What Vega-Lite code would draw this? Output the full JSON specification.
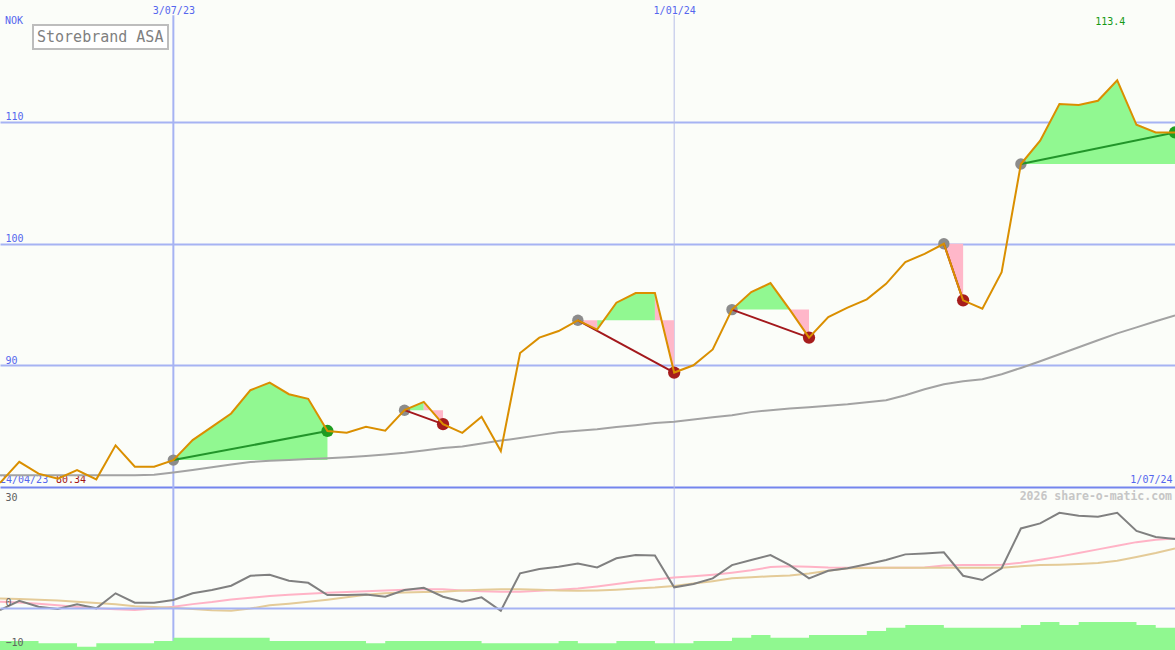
{
  "$schema": "https://vega.github.io/schema/vega-lite/v6.json",
  "width": 1175,
  "height": 650,
  "autosize": {"type": "none"},
  "padding": 0,
  "background": "#fbfdf9",
  "config": {"view": {"stroke": null}, "font": "DejaVu Sans Mono"},
  "datasets": {
    "weekly": [
      {"d": "2023-05-01", "close": 80.34, "avg": 80.96, "osc": -0.57, "osc_fast": 1.5, "osc_slow": 2.3, "vol": 5.5},
      {"d": "2023-05-08", "close": 82.07, "avg": 80.96, "osc": 1.74, "osc_fast": 1.3, "osc_slow": 2.2, "vol": 5.5},
      {"d": "2023-05-15", "close": 81.1, "avg": 80.96, "osc": 0.25, "osc_fast": 1.0, "osc_slow": 2.0, "vol": 4.1},
      {"d": "2023-05-22", "close": 80.68, "avg": 80.96, "osc": -0.32, "osc_fast": 0.6, "osc_slow": 1.8, "vol": 4.1},
      {"d": "2023-05-29", "close": 81.39, "avg": 80.96, "osc": 0.84, "osc_fast": 0.2, "osc_slow": 1.5, "vol": 2.0},
      {"d": "2023-06-05", "close": 80.63, "avg": 80.96, "osc": -0.15, "osc_fast": -0.1, "osc_slow": 1.15, "vol": 4.1},
      {"d": "2023-06-12", "close": 83.42, "avg": 80.96, "osc": 3.58, "osc_fast": -0.35, "osc_slow": 0.85, "vol": 4.1},
      {"d": "2023-06-19", "close": 81.67, "avg": 80.96, "osc": 1.24, "osc_fast": -0.55, "osc_slow": 0.4, "vol": 4.1},
      {"d": "2023-06-26", "close": 81.67, "avg": 81.0, "osc": 1.24, "osc_fast": -0.2, "osc_slow": 0.2, "vol": 5.5},
      {"d": "2023-07-03", "close": 82.21, "avg": 81.2, "osc": 1.91, "osc_fast": 0.25, "osc_slow": 0.0, "vol": 7.5},
      {"d": "2023-07-10", "close": 83.85, "avg": 81.4, "osc": 3.58, "osc_fast": 0.9, "osc_slow": -0.3, "vol": 7.5},
      {"d": "2023-07-17", "close": 84.94, "avg": 81.62, "osc": 4.4, "osc_fast": 1.4, "osc_slow": -0.6, "vol": 7.5},
      {"d": "2023-07-24", "close": 86.04, "avg": 81.85, "osc": 5.47, "osc_fast": 2.05, "osc_slow": -0.75, "vol": 7.5},
      {"d": "2023-07-31", "close": 87.95, "avg": 82.05, "osc": 7.95, "osc_fast": 2.5, "osc_slow": -0.2, "vol": 7.5},
      {"d": "2023-08-07", "close": 88.58, "avg": 82.15, "osc": 8.2, "osc_fast": 2.9, "osc_slow": 0.6, "vol": 5.5},
      {"d": "2023-08-14", "close": 87.62, "avg": 82.22, "osc": 6.7, "osc_fast": 3.2, "osc_slow": 1.0, "vol": 5.5},
      {"d": "2023-08-21", "close": 87.24, "avg": 82.3, "osc": 6.2, "osc_fast": 3.5, "osc_slow": 1.5, "vol": 5.5},
      {"d": "2023-08-28", "close": 84.6, "avg": 82.36, "osc": 3.16, "osc_fast": 3.7, "osc_slow": 2.0, "vol": 5.5},
      {"d": "2023-09-04", "close": 84.45, "avg": 82.44, "osc": 3.16, "osc_fast": 3.9, "osc_slow": 2.6, "vol": 5.5},
      {"d": "2023-09-11", "close": 84.94, "avg": 82.55, "osc": 3.3, "osc_fast": 4.1, "osc_slow": 3.2, "vol": 4.1},
      {"d": "2023-09-18", "close": 84.62, "avg": 82.67, "osc": 2.73, "osc_fast": 4.3, "osc_slow": 3.6, "vol": 5.5},
      {"d": "2023-09-25", "close": 86.31, "avg": 82.81, "osc": 4.4, "osc_fast": 4.5, "osc_slow": 3.8, "vol": 5.5},
      {"d": "2023-10-02", "close": 86.99, "avg": 82.99, "osc": 4.97, "osc_fast": 4.6, "osc_slow": 3.9, "vol": 5.5},
      {"d": "2023-10-09", "close": 85.16, "avg": 83.2, "osc": 2.73, "osc_fast": 4.6, "osc_slow": 4.0, "vol": 5.5},
      {"d": "2023-10-16", "close": 84.45, "avg": 83.33, "osc": 1.49, "osc_fast": 4.3, "osc_slow": 4.3, "vol": 5.5},
      {"d": "2023-10-23", "close": 85.77, "avg": 83.57, "osc": 2.58, "osc_fast": 4.1, "osc_slow": 4.5, "vol": 4.1},
      {"d": "2023-10-30", "close": 82.95, "avg": 83.81, "osc": -0.75, "osc_fast": 4.0, "osc_slow": 4.6, "vol": 4.1},
      {"d": "2023-11-06", "close": 91.01, "avg": 84.02, "osc": 8.55, "osc_fast": 4.0, "osc_slow": 4.6, "vol": 4.1},
      {"d": "2023-11-13", "close": 92.27, "avg": 84.26, "osc": 9.6, "osc_fast": 4.2, "osc_slow": 4.5, "vol": 4.1},
      {"d": "2023-11-20", "close": 92.81, "avg": 84.5, "osc": 10.2, "osc_fast": 4.5, "osc_slow": 4.3, "vol": 5.5},
      {"d": "2023-11-27", "close": 93.69, "avg": 84.63, "osc": 11.0, "osc_fast": 4.8, "osc_slow": 4.2, "vol": 4.1},
      {"d": "2023-12-04", "close": 92.93, "avg": 84.75, "osc": 10.0, "osc_fast": 5.3, "osc_slow": 4.3, "vol": 4.1},
      {"d": "2023-12-11", "close": 95.14, "avg": 84.92, "osc": 12.3, "osc_fast": 5.9, "osc_slow": 4.5, "vol": 5.5},
      {"d": "2023-12-18", "close": 95.93, "avg": 85.08, "osc": 13.1, "osc_fast": 6.5, "osc_slow": 4.8, "vol": 5.5},
      {"d": "2023-12-25", "close": 95.93, "avg": 85.25, "osc": 13.0, "osc_fast": 7.0, "osc_slow": 5.0, "vol": 4.1},
      {"d": "2024-01-01", "close": 89.4, "avg": 85.35, "osc": 5.07, "osc_fast": 7.5, "osc_slow": 5.4, "vol": 4.1},
      {"d": "2024-01-08", "close": 90.0, "avg": 85.55, "osc": 5.9, "osc_fast": 7.8, "osc_slow": 6.0, "vol": 5.5},
      {"d": "2024-01-15", "close": 91.3, "avg": 85.72, "osc": 7.3, "osc_fast": 8.2, "osc_slow": 6.6, "vol": 5.5},
      {"d": "2024-01-22", "close": 94.57, "avg": 85.9, "osc": 10.6, "osc_fast": 8.7, "osc_slow": 7.3, "vol": 7.5},
      {"d": "2024-01-29", "close": 96.01, "avg": 86.15, "osc": 11.85, "osc_fast": 9.3, "osc_slow": 7.6, "vol": 9.2},
      {"d": "2024-02-05", "close": 96.75, "avg": 86.31, "osc": 13.1, "osc_fast": 10.1, "osc_slow": 7.8, "vol": 7.5},
      {"d": "2024-02-12", "close": 94.57, "avg": 86.45, "osc": 10.6, "osc_fast": 10.3, "osc_slow": 8.0, "vol": 7.5},
      {"d": "2024-02-19", "close": 92.27, "avg": 86.56, "osc": 7.3, "osc_fast": 10.2, "osc_slow": 8.5, "vol": 9.2},
      {"d": "2024-02-26", "close": 93.96, "avg": 86.68, "osc": 9.2, "osc_fast": 10.0, "osc_slow": 9.2, "vol": 9.2},
      {"d": "2024-03-04", "close": 94.73, "avg": 86.8, "osc": 9.8, "osc_fast": 9.95, "osc_slow": 9.8, "vol": 9.2},
      {"d": "2024-03-11", "close": 95.41, "avg": 86.97, "osc": 10.8, "osc_fast": 9.95, "osc_slow": 9.9, "vol": 11.7},
      {"d": "2024-03-18", "close": 96.69, "avg": 87.13, "osc": 11.85, "osc_fast": 9.95, "osc_slow": 9.95, "vol": 13.7},
      {"d": "2024-03-25", "close": 98.47, "avg": 87.54, "osc": 13.26, "osc_fast": 9.95, "osc_slow": 9.95, "vol": 15.3},
      {"d": "2024-04-01", "close": 99.15, "avg": 88.03, "osc": 13.5, "osc_fast": 10.0, "osc_slow": 9.95, "vol": 15.3},
      {"d": "2024-04-08", "close": 99.98, "avg": 88.44, "osc": 13.76, "osc_fast": 10.5, "osc_slow": 9.95, "vol": 13.7},
      {"d": "2024-04-15", "close": 95.33, "avg": 88.69, "osc": 7.95, "osc_fast": 10.6, "osc_slow": 9.95, "vol": 13.7},
      {"d": "2024-04-22", "close": 94.65, "avg": 88.85, "osc": 6.88, "osc_fast": 10.6, "osc_slow": 9.95, "vol": 13.7},
      {"d": "2024-04-29", "close": 97.65, "avg": 89.26, "osc": 9.8, "osc_fast": 10.7, "osc_slow": 9.95, "vol": 13.7},
      {"d": "2024-05-06", "close": 106.53, "avg": 89.78, "osc": 19.7, "osc_fast": 11.2, "osc_slow": 10.3, "vol": 15.3},
      {"d": "2024-05-13", "close": 108.44, "avg": 90.33, "osc": 20.97, "osc_fast": 11.9, "osc_slow": 10.6, "vol": 17.2},
      {"d": "2024-05-20", "close": 111.45, "avg": 90.9, "osc": 23.6, "osc_fast": 12.7, "osc_slow": 10.7, "vol": 15.3},
      {"d": "2024-05-27", "close": 111.37, "avg": 91.48, "osc": 22.86, "osc_fast": 13.6, "osc_slow": 10.85, "vol": 17.2},
      {"d": "2024-06-03", "close": 111.72, "avg": 92.05, "osc": 22.6, "osc_fast": 14.5, "osc_slow": 11.1, "vol": 17.2},
      {"d": "2024-06-10", "close": 113.4, "avg": 92.62, "osc": 23.6, "osc_fast": 15.4, "osc_slow": 11.7, "vol": 17.2},
      {"d": "2024-06-17", "close": 109.75, "avg": 93.11, "osc": 19.1, "osc_fast": 16.3, "osc_slow": 12.6, "vol": 15.3},
      {"d": "2024-06-24", "close": 109.12, "avg": 93.61, "osc": 17.6, "osc_fast": 16.9, "osc_slow": 13.6, "vol": 13.7},
      {"d": "2024-07-01", "close": 109.12, "avg": 94.1, "osc": 17.07, "osc_fast": 17.2, "osc_slow": 14.75, "vol": 13.7}
    ],
    "trades": [
      {"t": 1, "d0": "2023-07-03", "d1": "2023-08-28", "p0": 82.21, "p1": 84.6, "up": true},
      {"t": 2, "d0": "2023-09-25", "d1": "2023-10-09", "p0": 86.31, "p1": 85.16, "up": false},
      {"t": 3, "d0": "2023-11-27", "d1": "2024-01-01", "p0": 93.69, "p1": 89.4, "up": false},
      {"t": 4, "d0": "2024-01-22", "d1": "2024-02-19", "p0": 94.57, "p1": 92.27, "up": false},
      {"t": 5, "d0": "2024-04-08", "d1": "2024-04-15", "p0": 99.98, "p1": 95.33, "up": false},
      {"t": 6, "d0": "2024-05-06", "d1": "2024-07-01", "p0": 106.53, "p1": 109.12, "up": true}
    ],
    "fills": [
      {"s": "1", "d": "2023-07-03", "close": 82.21, "base": 82.21, "up": true},
      {"s": "1", "d": "2023-07-10", "close": 83.85, "base": 82.21, "up": true},
      {"s": "1", "d": "2023-07-17", "close": 84.94, "base": 82.21, "up": true},
      {"s": "1", "d": "2023-07-24", "close": 86.04, "base": 82.21, "up": true},
      {"s": "1", "d": "2023-07-31", "close": 87.95, "base": 82.21, "up": true},
      {"s": "1", "d": "2023-08-07", "close": 88.58, "base": 82.21, "up": true},
      {"s": "1", "d": "2023-08-14", "close": 87.62, "base": 82.21, "up": true},
      {"s": "1", "d": "2023-08-21", "close": 87.24, "base": 82.21, "up": true},
      {"s": "1", "d": "2023-08-28", "close": 84.6, "base": 82.21, "up": true},
      {"s": "2a", "d": "2023-09-25", "close": 86.31, "base": 86.31, "up": true},
      {"s": "2a", "d": "2023-10-02", "close": 86.99, "base": 86.31, "up": true},
      {"s": "2b", "d": "2023-10-02", "close": 86.99, "base": 86.31, "up": false},
      {"s": "2b", "d": "2023-10-09", "close": 85.16, "base": 86.31, "up": false},
      {"s": "3a", "d": "2023-11-27", "close": 93.69, "base": 93.69, "up": false},
      {"s": "3a", "d": "2023-12-04", "close": 92.93, "base": 93.69, "up": false},
      {"s": "3b", "d": "2023-12-04", "close": 92.93, "base": 93.69, "up": true},
      {"s": "3b", "d": "2023-12-11", "close": 95.14, "base": 93.69, "up": true},
      {"s": "3b", "d": "2023-12-18", "close": 95.93, "base": 93.69, "up": true},
      {"s": "3b", "d": "2023-12-25", "close": 95.93, "base": 93.69, "up": true},
      {"s": "3c", "d": "2023-12-25", "close": 95.93, "base": 93.69, "up": false},
      {"s": "3c", "d": "2024-01-01", "close": 89.4, "base": 93.69, "up": false},
      {"s": "4a", "d": "2024-01-22", "close": 94.57, "base": 94.57, "up": true},
      {"s": "4a", "d": "2024-01-29", "close": 96.01, "base": 94.57, "up": true},
      {"s": "4a", "d": "2024-02-05", "close": 96.75, "base": 94.57, "up": true},
      {"s": "4a", "d": "2024-02-12", "close": 94.57, "base": 94.57, "up": true},
      {"s": "4b", "d": "2024-02-12", "close": 94.57, "base": 94.57, "up": false},
      {"s": "4b", "d": "2024-02-19", "close": 92.27, "base": 94.57, "up": false},
      {"s": "5", "d": "2024-04-08", "close": 99.98, "base": 99.98, "up": false},
      {"s": "5", "d": "2024-04-15", "close": 95.33, "base": 99.98, "up": false},
      {"s": "6", "d": "2024-05-06", "close": 106.53, "base": 106.53, "up": true},
      {"s": "6", "d": "2024-05-13", "close": 108.44, "base": 106.53, "up": true},
      {"s": "6", "d": "2024-05-20", "close": 111.45, "base": 106.53, "up": true},
      {"s": "6", "d": "2024-05-27", "close": 111.37, "base": 106.53, "up": true},
      {"s": "6", "d": "2024-06-03", "close": 111.72, "base": 106.53, "up": true},
      {"s": "6", "d": "2024-06-10", "close": 113.4, "base": 106.53, "up": true},
      {"s": "6", "d": "2024-06-17", "close": 109.75, "base": 106.53, "up": true},
      {"s": "6", "d": "2024-06-24", "close": 109.12, "base": 106.53, "up": true},
      {"s": "6", "d": "2024-07-01", "close": 109.12, "base": 106.53, "up": true}
    ]
  },
  "resolve": {"scale": {"y": "independent"}},
  "layer": [
    {
      "layer": [
        {
          "data": {"values": [{"d": "2023-07-03"}]},
          "mark": {"type": "rule", "color": "#a6b3f3", "strokeWidth": 2},
          "encoding": {
            "x": {
              "field": "d", "type": "temporal", "title": null,
              "scale": {"type": "utc", "domain": [{"year": 2023, "month": 5, "date": 1, "utc": true}, {"year": 2024, "month": 7, "date": 1, "utc": true}]},
              "axis": {
                "orient": "top",
                "values": [{"year": 2023, "month": 7, "date": 3, "utc": true}, {"year": 2024, "month": 1, "date": 1, "utc": true}],
                "format": "%-d/%m/%y",
                "title": null, "grid": false, "domain": false, "ticks": false, "tickSize": 0,
                "labelPadding": -13, "labelBaseline": "alphabetic", "labelAlign": "center",
                "labelColor": "#5566ee", "labelFont": "DejaVu Sans Mono", "labelFontSize": 10,
                "labelFlush": false, "labelOverlap": false, "labelBound": false
              }
            },
            "y": {"datum": 118.75, "type": "quantitative", "scale": {"domain": [80, 120], "range": [487, 0], "nice": false, "zero": false}, "axis": null},
            "y2": {"datum": 66.6}
          }
        },
        {
          "data": {"values": [{"d": "2024-01-01"}]},
          "mark": {"type": "rule", "color": "#b7bee8", "strokeWidth": 1},
          "encoding": {
            "x": {"field": "d", "type": "temporal", "title": null},
            "y": {"datum": 118.75, "type": "quantitative"},
            "y2": {"datum": 66.6}
          }
        }
      ]
    },
    {
      "data": {"name": "weekly"},
      "mark": {"type": "area", "interpolate": "step-after", "color": "#90f890", "opacity": 1},
      "encoding": {
        "x": {"field": "d", "type": "temporal", "title": null},
        "y": {"field": "vol", "type": "quantitative", "scale": {"domain": [0, 100], "range": [650, 487], "nice": false, "zero": false}, "axis": null},
        "y2": {"datum": 0}
      }
    },
    {
      "layer": [
        {
          "data": {"name": "weekly"},
          "mark": {"type": "line", "color": "#ffb3c6", "strokeWidth": 2},
          "encoding": {
            "x": {"field": "d", "type": "temporal", "title": null},
            "y": {
              "field": "osc_fast", "type": "quantitative", "title": null,
              "scale": {"domain": [-10.5, 30], "range": [650, 487], "nice": false, "zero": false},
              "axis": {
                "orient": "left", "values": [30, 0, -10], "title": null, "zindex": 1,
                "grid": true, "gridColor": "#a6b3f3", "gridWidth": 2,
                "gridOpacity": {"condition": {"test": "datum.value === 0", "value": 1}, "value": 0},
                "domain": false, "ticks": false, "tickSize": 0,
                "labelAlign": "left", "labelBaseline": "alphabetic", "labelPadding": -5,
                "labelOffset": {"condition": {"test": "datum.value === 30", "value": 13}, "value": -2.5},
                "labelColor": "#606060", "labelFont": "DejaVu Sans Mono", "labelFontSize": 10,
                "labelOverlap": false, "labelFlush": false, "labelBound": false
              }
            }
          }
        },
        {
          "data": {"name": "weekly"},
          "mark": {"type": "line", "color": "#e4cb98", "strokeWidth": 2},
          "encoding": {
            "x": {"field": "d", "type": "temporal", "title": null},
            "y": {"field": "osc_slow", "type": "quantitative", "title": null}
          }
        },
        {
          "data": {"name": "weekly"},
          "mark": {"type": "line", "color": "#808080", "strokeWidth": 2},
          "encoding": {
            "x": {"field": "d", "type": "temporal", "title": null},
            "y": {"field": "osc", "type": "quantitative", "title": null}
          }
        },
        {
          "data": {"values": [{"d": "2024-07-01", "v": 26.77, "label": "2026 share-o-matic.com"}]},
          "mark": {"type": "text", "align": "right", "baseline": "alphabetic", "dx": -3, "font": "DejaVu Sans Mono", "fontSize": 11.5, "fontWeight": "bold", "color": "#c6c6c6"},
          "encoding": {
            "x": {"field": "d", "type": "temporal", "title": null},
            "y": {"field": "v", "type": "quantitative", "title": null},
            "text": {"field": "label"}
          }
        }
      ]
    },
    {
      "layer": [
        {
          "data": {"name": "fills"},
          "transform": [{"filter": "datum.up"}],
          "mark": {"type": "area", "color": "#91f891", "opacity": 1},
          "encoding": {
            "x": {"field": "d", "type": "temporal", "title": null},
            "y": {
              "field": "close", "type": "quantitative", "title": null,
              "scale": {"domain": [80, 120], "range": [487, 0], "nice": false, "zero": false},
              "axis": {
                "orient": "left", "values": [80, 90, 100, 110], "title": null,
                "grid": true, "gridWidth": 2,
                "gridColor": {"condition": {"test": "datum.value === 80", "value": "#7485ee"}, "value": "#a6b3f3"},
                "domain": false, "ticks": false, "tickSize": 0,
                "labelExpr": "datum.value === 80 ? '' : datum.label",
                "labelAlign": "left", "labelBaseline": "alphabetic", "labelPadding": -5, "labelOffset": -2,
                "labelColor": "#5566ee", "labelFont": "DejaVu Sans Mono", "labelFontSize": 10,
                "labelOverlap": false, "labelFlush": false, "labelBound": false
              }
            },
            "y2": {"field": "base"},
            "detail": {"field": "s"}
          }
        },
        {
          "data": {"name": "fills"},
          "transform": [{"filter": "!datum.up"}],
          "mark": {"type": "area", "color": "#ffb7c9", "opacity": 1},
          "encoding": {
            "x": {"field": "d", "type": "temporal", "title": null},
            "y": {"field": "close", "type": "quantitative", "title": null},
            "y2": {"field": "base"},
            "detail": {"field": "s"}
          }
        },
        {
          "data": {"values": [{"d": "2023-05-01", "p": 117.99, "label": "NOK"}]},
          "mark": {"type": "text", "align": "left", "baseline": "alphabetic", "dx": 5, "font": "DejaVu Sans Mono", "fontSize": 10, "color": "#5566ee"},
          "encoding": {
            "x": {"field": "d", "type": "temporal", "title": null},
            "y": {"field": "p", "type": "quantitative", "title": null},
            "text": {"field": "label"}
          }
        },
        {
          "data": {"values": [{"d": "2023-05-01", "p": 80.33, "label": "24/04/23"}]},
          "mark": {"type": "text", "align": "left", "baseline": "alphabetic", "font": "DejaVu Sans Mono", "fontSize": 10, "color": "#5566ee"},
          "encoding": {
            "x": {"field": "d", "type": "temporal", "title": null},
            "y": {"field": "p", "type": "quantitative", "title": null},
            "text": {"field": "label"}
          }
        },
        {
          "data": {"values": [{"d": "2023-05-01", "p": 80.33, "label": "80.34"}]},
          "mark": {"type": "text", "align": "left", "baseline": "alphabetic", "dx": 56, "font": "DejaVu Sans Mono", "fontSize": 10, "color": "#a31515"},
          "encoding": {
            "x": {"field": "d", "type": "temporal", "title": null},
            "y": {"field": "p", "type": "quantitative", "title": null},
            "text": {"field": "label"}
          }
        },
        {
          "data": {"values": [{"d": "2024-07-01", "p": 80.3, "label": "1/07/24"}]},
          "mark": {"type": "text", "align": "right", "baseline": "alphabetic", "dx": -2.5, "font": "DejaVu Sans Mono", "fontSize": 10, "color": "#5566ee"},
          "encoding": {
            "x": {"field": "d", "type": "temporal", "title": null},
            "y": {"field": "p", "type": "quantitative", "title": null},
            "text": {"field": "label"}
          }
        },
        {
          "data": {"values": [{"d": "2024-06-10", "p": 117.95, "label": "113.4"}]},
          "mark": {"type": "text", "align": "center", "baseline": "alphabetic", "dx": -7, "font": "DejaVu Sans Mono", "fontSize": 10, "color": "#169a16"},
          "encoding": {
            "x": {"field": "d", "type": "temporal", "title": null},
            "y": {"field": "p", "type": "quantitative", "title": null},
            "text": {"field": "label"}
          }
        },
        {
          "data": {"name": "weekly"},
          "mark": {"type": "line", "color": "#a3a3a3", "strokeWidth": 2},
          "encoding": {
            "x": {"field": "d", "type": "temporal", "title": null},
            "y": {"field": "avg", "type": "quantitative", "title": null}
          }
        },
        {
          "data": {"name": "trades"},
          "mark": {"type": "circle", "size": 130, "color": "#8c8c8c", "opacity": 1},
          "encoding": {
            "x": {"field": "d0", "type": "temporal", "title": null},
            "y": {"field": "p0", "type": "quantitative", "title": null}
          }
        },
        {
          "data": {"name": "trades"},
          "mark": {"type": "circle", "size": 150, "opacity": 1},
          "encoding": {
            "x": {"field": "d1", "type": "temporal", "title": null},
            "y": {"field": "p1", "type": "quantitative", "title": null},
            "color": {"condition": {"test": "datum.up", "value": "#1f9d1f"}, "value": "#a61c1c"}
          }
        },
        {
          "data": {"name": "trades"},
          "mark": {"type": "rule", "strokeWidth": 2},
          "encoding": {
            "x": {"field": "d0", "type": "temporal", "title": null},
            "x2": {"field": "d1"},
            "y": {"field": "p0", "type": "quantitative", "title": null},
            "y2": {"field": "p1"},
            "color": {"condition": {"test": "datum.up", "value": "#22952a"}, "value": "#a3181c"}
          }
        },
        {
          "data": {"name": "weekly"},
          "mark": {"type": "line", "strokeWidth": 2},
          "encoding": {
            "x": {"field": "d", "type": "temporal", "title": null},
            "y": {"field": "close", "type": "quantitative", "title": null},
            "color": {
              "datum": "Storebrand ASA", "type": "nominal",
              "scale": {"range": ["#da8f00"]},
              "legend": {
                "orient": "none", "legendX": 33, "legendY": 25, "title": null,
                "padding": 4, "strokeColor": "#bdbdbd", "fillColor": "#ffffff",
                "labelFont": "DejaVu Sans Mono", "labelFontSize": 15, "labelColor": "#808080", "labelOffset": -15,
                "symbolType": "square", "symbolSize": 0, "symbolOpacity": 0, "symbolStrokeWidth": 0,
                "encode": {"legend": {"update": {"strokeWidth": {"value": 2}}}}
              }
            }
          }
        }
      ]
    }
  ]
}
